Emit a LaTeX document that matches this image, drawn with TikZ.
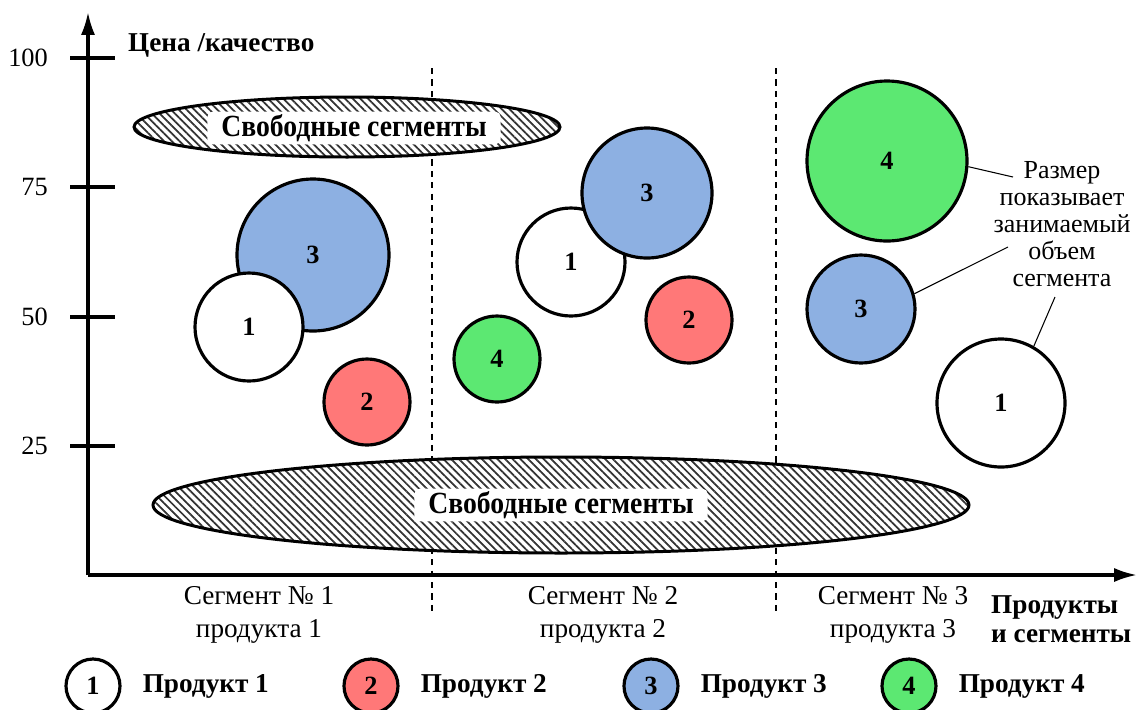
\documentclass[tikz,border=0pt]{standalone}
\usepackage{fontspec}
\usepackage{graphicx}
\setmainfont{Liberation Serif}
\usetikzlibrary{arrows.meta,patterns.meta,positioning}

\definecolor{prodred}{RGB}{255,120,120}
\definecolor{prodblue}{RGB}{141,176,226}
\definecolor{prodgreen}{RGB}{92,232,114}

\begin{document}
\begin{tikzpicture}[x=0.2mm,y=-0.2mm,>={Latex[length=13pt,width=8pt]},
  bub/.style 2 args={circle,draw,line width=1.8pt,fill=#1,minimum size=#2*0.4mm,inner sep=0pt,font=\fontsize{15}{15}\selectfont\bfseries},
  freetext/.style={fill=white,rounded corners=3pt,inner xsep=8pt,inner ysep=1.5pt,font=\fontsize{17.5}{17.5}\selectfont\bfseries},
  hatch/.style={line width=1.7pt,preaction={fill=white},pattern={Lines[angle=-45,distance=3.1pt,line width=1pt]},pattern color=black!80},
  lab/.style={font=\fontsize{15.5}{18.5}\selectfont}]
\useasboundingbox (0,0) rectangle (1137,709);
% segment borders
\draw[line width=1.3pt,dash pattern=on 3.5pt off 3pt] (432,68) -- (432,612);
\draw[line width=1.3pt,dash pattern=on 3.5pt off 3pt] (776,68) -- (776,612);
% axes
\coordinate (O) at (88,575); \coordinate (ytop) at (88,12); \coordinate (xend) at (1137,575);
\draw[->,line width=1.8pt] (O) -- (ytop);
\draw[->,line width=1.8pt] (O) -- (xend);
\foreach \y/\v in {58/100,187/75,317/50,446/25} {
  \draw[line width=1.8pt] (70,\y) -- (115,\y);
  \node[anchor=east,font=\fontsize{15}{15}\selectfont] (t\v) at (54,\y) {\v};
}
\node[anchor=west,font=\fontsize{15.5}{15.5}\selectfont\bfseries] (ylab) at (122,45) {Цена /качество};
% free segments
\draw[hatch] (347,127) ellipse [x radius=213,y radius=30];
\node[freetext] (free1) at (354,128) {\scalebox{0.9}[1]{Свободные сегменты}};
\draw[hatch] (561,505) ellipse [x radius=408,y radius=48];
\node[freetext] (free2) at (561,505) {\scalebox{0.9}[1]{Свободные сегменты}};
% segment 1
\node[bub={prodblue}{76}] (s1p3) at (313,255) {3};
\node[bub={white}{54}] (s1p1) at (249,327) {1};
\node[bub={prodred}{43}] (s1p2) at (367,402) {2};
% segment 2
\node[bub={white}{54}] (s2p1) at (571,262) {1};
\node[bub={prodblue}{65}] (s2p3) at (647,193) {3};
\node[bub={prodred}{43}] (s2p2) at (689,320) {2};
\node[bub={prodgreen}{43}] (s2p4) at (497,359) {4};
% segment 3
\node[bub={prodgreen}{80}] (s3p4) at (887,161) {4};
\node[bub={prodblue}{54}] (s3p3) at (861,309) {3};
\node[bub={white}{64}] (s3p1) at (1001,403) {1};
% size note
\node[align=center,font=\fontsize{14.8}{15.4}\selectfont] (note) at (1062,224) {Размер\\показывает\\занимаемый\\объем\\сегмента};
\coordinate (n1) at (1013,177); \coordinate (n2) at (1008,247); \coordinate (n3) at (1055,297);
\draw[line width=0.6pt] (s3p4.-4) -- (n1);
\draw[line width=0.6pt] (s3p3.16) -- (n2);
\draw[line width=0.6pt] (s3p1.60) -- (n3);
% x labels
\node[align=center,lab] (seg1) at (259,615) {Сегмент № 1\\продукта 1};
\node[align=center,lab] (seg2) at (603,615) {Сегмент № 2\\продукта 2};
\node[align=center,lab] (seg3) at (893,615) {Сегмент № 3\\продукта 3};
\node[align=left,anchor=west,font=\fontsize{15.5}{16.4}\selectfont\bfseries] (xlab) at (985,619) {Продукты\\и сегменты};
% legend
\node[bub={white}{27}] (l1) at (93,686) {1};
\node[bub={prodred}{27}] (l2) at (371,686) {2};
\node[bub={prodblue}{27}] (l3) at (651,686) {3};
\node[bub={prodgreen}{27}] (l4) at (909,686) {4};
\foreach \i in {1,...,4}
  \node[right=3mm of l\i,font=\fontsize{15.5}{15.5}\selectfont\bfseries] (lt\i) {Продукт \i};
\end{tikzpicture}
\end{document}
